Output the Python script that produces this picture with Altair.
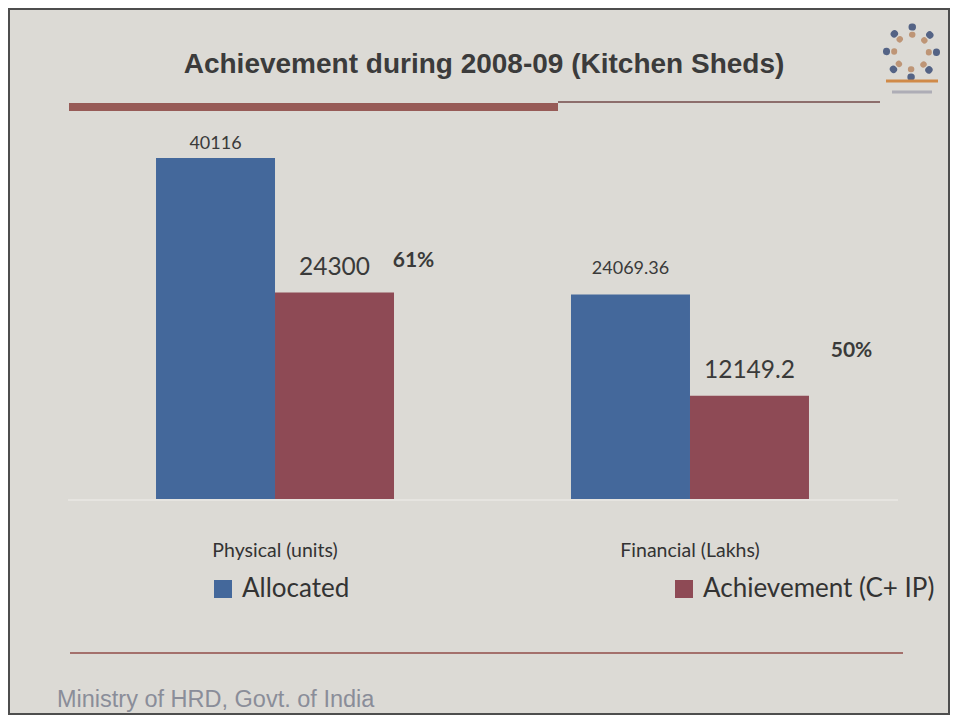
import altair as alt
import pandas as pd

# ---- data ----
categories = ["Physical (units)", "Financial (Lakhs)"]
series = ["Allocated", "Achievement (C+ IP)"]
allocated = [40116, 24069.36]
achievement = [24300, 12149.2]

title_text = "Achievement during 2008-09 (Kitchen Sheds)"
footer_text = "Ministry of HRD, Govt. of India"

rows = []
for i, c in enumerate(categories):
    rows.append({"category": c, "series": series[0], "value": allocated[i], "label": str(allocated[i])})
    rows.append({"category": c, "series": series[1], "value": achievement[i], "label": str(achievement[i])})
df = pd.DataFrame(rows)

pct_df = pd.DataFrame({
    "category": categories,
    "value": achievement,
    "pct": [f"{round(a / b * 100)}%" for a, b in zip(achievement, allocated)],
})
cat_df = pd.DataFrame({"category": categories})
one = alt.Data(values=[{}])

# ---- styling ----
W, H = 942, 707
BG = "#dcdad5"
BLUE = "#44689b"
RED = "#8e4a55"
TXT = "#3a3a3a"
LFONT = "Lato"

x_scale = alt.Scale(domain=categories, range=[59.5, 889.5], paddingInner=0.4265, paddingOuter=0.2133)
y_scale = alt.Scale(domain=[0, 50000], range=[491, 66])
xo_scale = alt.Scale(domain=series, paddingInner=0, paddingOuter=0)
color_scale = alt.Scale(domain=series, range=[BLUE, RED])

X = alt.X("category:N", scale=x_scale, axis=None)
XO = alt.XOffset("series:N", scale=xo_scale)
Y = alt.Y("value:Q", scale=y_scale, axis=None)

base = alt.Chart(df)

bars = base.mark_bar().encode(
    x=X, xOffset=XO, y=Y,
    color=alt.Color(
        "series:N", scale=color_scale,
        legend=alt.Legend(
            title=None, orient="none", legendX=202, legendY=568,
            direction="horizontal", symbolType="square", symbolSize=324,
            symbolStrokeWidth=0, symbolOpacity=1, labelFont=LFONT,
            labelFontSize=26, labelColor="#333333", labelOffset=6,
            columnPadding=321, labelLimit=400,
        ),
    ),
)

alloc_phys = base.transform_filter(
    (alt.datum.series == series[0]) & (alt.datum.category == categories[0])
).mark_text(font=LFONT, fontSize=18, color=TXT, baseline="alphabetic", dy=-9).encode(
    x=X, xOffset=XO, y=Y, text="label:N")

alloc_fin = base.transform_filter(
    (alt.datum.series == series[0]) & (alt.datum.category == categories[1])
).mark_text(font=LFONT, fontSize=18, color=TXT, baseline="alphabetic", dy=-20).encode(
    x=X, xOffset=XO, y=Y, text="label:N")

ach_lbl = base.transform_filter(alt.datum.series == series[1]).mark_text(
    font=LFONT, fontSize=24.5, color=TXT, baseline="alphabetic", dy=-17.5).encode(
    x=X, xOffset=XO, y=Y, text="label:N")

pct_base = alt.Chart(pct_df)
pct_phys = pct_base.transform_filter(alt.datum.category == categories[0]).mark_text(
    font=LFONT, fontSize=21, fontWeight="bold", color=TXT, baseline="alphabetic",
    dx=138.5, dy=-25.5).encode(x=X, y=Y, text="pct:N")
pct_fin = pct_base.transform_filter(alt.datum.category == categories[1]).mark_text(
    font=LFONT, fontSize=21, fontWeight="bold", color=TXT, baseline="alphabetic",
    dx=161.5, dy=-38.5).encode(x=X, y=Y, text="pct:N")

cat_lbl = alt.Chart(cat_df).mark_text(
    font=LFONT, fontSize=19.5, color="#333333", baseline="alphabetic").encode(
    x=X, y=alt.value(549), text="category:N")

# ---- slide decorations ----
title = alt.Chart(one).mark_text(
    font="Liberation Sans", fontSize=28, fontWeight="bold", color="#3b3b3b",
    align="center", baseline="alphabetic", text=title_text).encode(
    x=alt.value(476), y=alt.value(65))

red_bar = alt.Chart(one).mark_rule(color="#975b57", strokeWidth=8).encode(
    x=alt.value(61), x2=alt.value(550), y=alt.value(99))
thin_line = alt.Chart(one).mark_rule(color="#8d6e6c", strokeWidth=2).encode(
    x=alt.value(550), x2=alt.value(872), y=alt.value(94))
base_line = alt.Chart(one).mark_rule(color="#e6e4e0", strokeWidth=2).encode(
    x=alt.value(60), x2=alt.value(890), y=alt.value(492))
bottom_line = alt.Chart(one).mark_rule(color="#a4706c", strokeWidth=2).encode(
    x=alt.value(62), x2=alt.value(895), y=alt.value(645))

footer = alt.Chart(one).mark_text(
    font="Liberation Sans", fontSize=23.5, color="#8a8d99",
    align="left", baseline="alphabetic", text=footer_text).encode(
    x=alt.value(49), y=alt.value(699))

# small emblem in the top-right corner
logo_outer = alt.Chart(one).mark_point(
    shape="circle", size=2500, filled=False, color="#3d4f78", strokeWidth=7,
    strokeDash=[0.5, 19.1], strokeCap="round", opacity=0.85).encode(
    x=alt.value(903.5), y=alt.value(44))
logo_inner = alt.Chart(one).mark_point(
    shape="circle", size=1200, filled=False, color="#b98a66", strokeWidth=6,
    strokeDash=[0.5, 13.1], strokeCap="round", opacity=0.85).encode(
    x=alt.value(903.5), y=alt.value(44))
logo_book = alt.Chart(one).mark_rule(color="#d08a48", strokeWidth=3).encode(
    x=alt.value(878), x2=alt.value(930), y=alt.value(73))
logo_text = alt.Chart(one).mark_rule(color="#9a9aa8", strokeWidth=3, opacity=0.7).encode(
    x=alt.value(884), x2=alt.value(924), y=alt.value(84))

chart = alt.layer(
    base_line, bars, alloc_phys, alloc_fin, ach_lbl, pct_phys, pct_fin, cat_lbl,
    title, red_bar, thin_line, bottom_line, footer,
    logo_outer, logo_inner, logo_book, logo_text,
).properties(
    width=W, height=H, autosize=alt.AutoSizeParams(type="none"), padding=0,
).configure(background=BG).configure_view(stroke="#4e4e4e", strokeWidth=4)

chart.save("out.html", embed_options={"renderer": "svg", "actions": False})
